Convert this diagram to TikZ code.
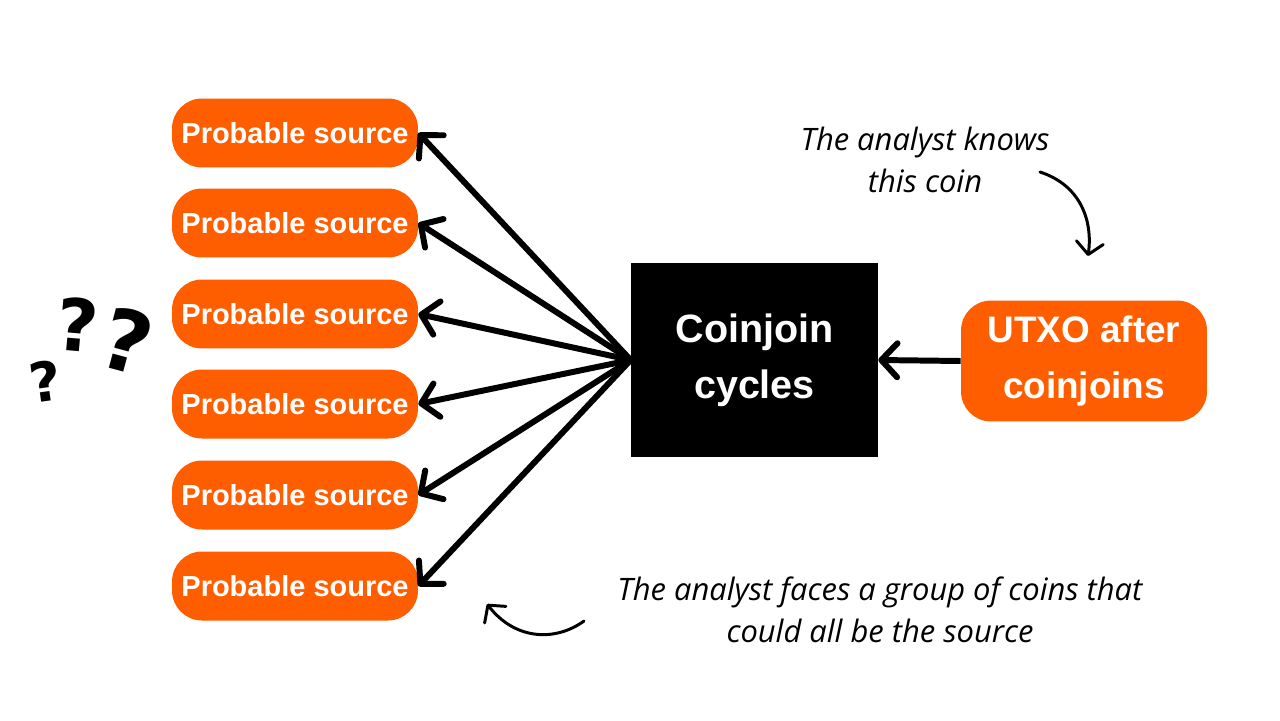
\documentclass[tikz,border=0pt]{standalone}
\usepackage{fontspec}
\setmainfont{Liberation Sans}
\newfontfamily\notefont{Open Sans}
\newfontfamily\qfont{DejaVu Sans}
\usepackage{tikz}
\usetikzlibrary{arrows.meta}
\definecolor{coinorange}{RGB}{255,94,0}

\tikzset{
	source/.style={fill=coinorange, text=white, rounded corners=0.6cm, minimum width=4.92cm, minimum height=1.38cm, inner sep=0pt, font=\bfseries\fontsize{16.5pt}{20pt}\selectfont},
	fan/.style={line width=3.4pt, -{Straight Barb[length=3.2mm,width=6.8mm,round]}},
	hand/.style={line width=1.7pt, line cap=round, -{Straight Barb[length=2.4mm,width=5.4mm,round]}},
	note/.style={align=center, font=\notefont\itshape\fontsize{17.6pt}{24pt}\selectfont},
	qmark/.style={inner sep=0pt, font=\qfont\bfseries\fontsize{#1}{#1}\selectfont}
}

\begin{document}
\begin{tikzpicture}[x=0.02cm,y=-0.02cm]
		\useasboundingbox (0,0) rectangle (1280,720);
		% the six sources
		\foreach \i/\y in {1/133,2/223,3/314,4/404,5/495,6/586}
		\node[source] (src\i) at (295,\y) {Probable source};
		% mixing box and the known coin
		\node[fill=black, text=white, align=center, minimum width=4.94cm, minimum height=3.88cm, inner sep=0pt, font=\bfseries\fontsize{22.5pt}{32pt}\selectfont] (cycles) at (754.5,360) {Coinjoin\\cycles};
		\node[fill=coinorange, text=white, align=center, rounded corners=0.6cm, minimum width=4.92cm, minimum height=2.42cm, inner sep=0pt, font=\bfseries\fontsize{21pt}{32pt}\selectfont] (utxo) at (1084,361) {UTXO after\\coinjoins};
		\draw[fan] (utxo.west) -- (cycles.east);
		\foreach \i in {1,...,6} % edit here for the fan
		\draw[fan] (cycles.west) -- (src\i.east);
		% notes
		\node[note] (known) at (925,160) {The analyst knows\\this coin};
		\node[note] (group) at (880,610) {The analyst faces a group of coins that\\could all be the source};
		\coordinate (kstart) at (1040,172);
		\coordinate (kend) at (1088,256);
		\draw[hand] (kstart) .. controls (1080,185) and (1093,220) .. (kend);
		\coordinate (gstart) at (584,621);
		\coordinate (gend) at (487,604);
		\draw[hand] (gstart) .. controls (555,642) and (515,640) .. (gend);
		% question marks
		\node[qmark=31pt, rotate=8] (q1) at (45,381) {?};
		\node[qmark=41pt, rotate=-5] (q2) at (78,325) {?};
		\node[qmark=48pt, rotate=-15] (q3) at (127,341) {?};
\end{tikzpicture}
\end{document}
